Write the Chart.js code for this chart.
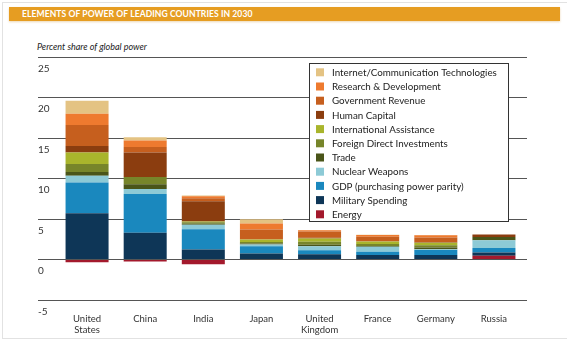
<!DOCTYPE html>
<html>
<head>
<meta charset="utf-8">
<script src="https://cdn.jsdelivr.net/npm/chart.js@4"></script>
<style>
  html, body { margin: 0; padding: 0; background: #fff; }
  #wrap { position: relative; width: 567px; height: 342px; overflow: hidden; }
  #frame { position: absolute; left: 2px; top: 2px; width: 570px; height: 337px; border: 1px solid #e2e2e2; box-sizing: border-box; }
  #titlebar { position: absolute; left: 9px; top: 7px; width: 551px; height: 14px; background: #E69D22;
    box-shadow: 0 1px 2px rgba(200,140,40,0.35); color: #fff; font: bold 8.6px Lato, "Open Sans", sans-serif;
    line-height: 14px; padding-left: 13px; box-sizing: border-box; letter-spacing: 0.05px; }
  #subtitle { position: absolute; left: 37px; top: 41px; font: italic 9px Lato, "Open Sans", sans-serif; color: #222; }
  canvas { position: absolute; left: 0; top: 0; }
</style>
</head>
<body>
<div id="wrap">
  <div id="frame"></div>
  <div id="titlebar">ELEMENTS OF POWER OF LEADING COUNTRIES IN 2030</div>
  <div id="subtitle">Percent share of global power</div>
  <canvas id="c" width="567" height="342"></canvas>
</div>
<script>
// ---- data ----
const categories = [['United','States'], 'China', 'India', 'Japan', ['United','Kingdom'], 'France', 'Germany', 'Russia'];
const seriesNames = ['Energy','Military Spending','GDP (purchasing power parity)','Nuclear Weapons','Trade',
  'Foreign Direct Investments','International Assistance','Human Capital','Government Revenue',
  'Research & Development','Internet/Communication Technologies'];
const energy     = [-0.35, -0.25, -0.6, 0, 0, 0, 0, 0.45];
const military   = [5.7, 3.3, 1.25, 0.75, 0.65, 0.55, 0.55, 0.42];
const gdp        = [3.8, 4.8, 2.5, 0.9, 0.5, 0.4, 0.62, 0.55];
const nuclear    = [0.85, 0.6, 0.55, 0.2, 0.5, 0.62, 0.1, 0.95];
const trade      = [0.45, 0.6, 0.1, 0.12, 0.18, 0.1, 0.2, 0.42];
const fdi        = [1.0, 0.9, 0.2, 0.2, 0.35, 0.25, 0.28, 0];
const intlAssist = [1.4, 0, 0.1, 0.3, 0.42, 0.29, 0.33, 0];
const humanCap   = [0.8, 3.0, 2.5, 0, 0.1, 0.05, 0.05, 0.3];
const govRevenue = [2.6, 0.7, 0.35, 1.23, 0.75, 0.55, 0.6, 0];
const research   = [1.4, 0.8, 0.25, 0.75, 0.15, 0.2, 0.25, 0];
const ict        = [1.6, 0.4, 0.1, 0.52, 0.05, 0.05, 0.05, 0];
const yTicks = [-5, 0, 5, 10, 15, 20, 25];

const seriesValues = [energy, military, gdp, nuclear, trade, fdi, intlAssist, humanCap, govRevenue, research, ict];
const seriesColors = ['#A3192C','#0E3657','#1A88BE','#8DCAD6','#4A5519','#77852A','#A9B52C','#8B3D0F','#C65F1E','#EE7A2F','#E4C383'];

const datasets = seriesNames.map((n, i) => ({
  label: n, data: seriesValues[i], backgroundColor: seriesColors[i], borderWidth: 0,
  barPercentage: 0.74, categoryPercentage: 1.0
}));

const FONT = 'Lato, "Open Sans", sans-serif';
const gridColor = '#555';

const legendPlugin = {
  id: 'boxLegend',
  afterDraw(chart) {
    const ctx = chart.ctx;
    const x0 = 309.5, y0 = 63.5, w = 199, h = 158;
    ctx.save();
    ctx.fillStyle = '#fff';
    ctx.fillRect(x0, y0, w, h);
    ctx.strokeStyle = '#333';
    ctx.lineWidth = 1;
    ctx.strokeRect(x0, y0, w, h);
    ctx.font = '9.8px ' + FONT;
    ctx.textBaseline = 'middle';
    ctx.textAlign = 'left';
    const ds = chart.data.datasets.slice().reverse();
    ds.forEach((d, i) => {
      const cy = 72.3 + i * 14.2;
      ctx.fillStyle = d.backgroundColor;
      ctx.fillRect(316, cy - 4, 8, 8);
      ctx.fillStyle = '#222';
      ctx.fillText(d.label, 332, cy + 0.5);
    });
    ctx.restore();
  }
};

new Chart(document.getElementById('c'), {
  type: 'bar',
  data: { labels: categories, datasets },
  options: {
    responsive: false,
    animation: false,
    devicePixelRatio: 1,
    layout: { padding: { top: 57, left: 38, right: 40, bottom: 2 } },
    plugins: { legend: { display: false }, tooltip: { enabled: false } },
    scales: {
      x: {
        stacked: true,
        grid: { display: false, drawTicks: false },
        border: { display: false },
        ticks: { color: '#333', font: { family: FONT, size: 9.5 }, padding: 13, maxRotation: 0, autoSkip: false },
        afterFit(s) { s.height = 40; }
      },
      y: {
        stacked: true,
        min: -5, max: 25,
        afterBuildTicks(s) { s.ticks = yTicks.map(v => ({ value: v })); },
        grid: { color: gridColor, lineWidth: 1, drawTicks: true, tickLength: 20 },
        border: { display: false },
        ticks: { crossAlign: 'far', labelOffset: 11.5, color: '#333', font: { family: FONT, size: 10 } },
        afterFit(s) { s.width = 20; }
      },
      y2: {
        position: 'right',
        min: -5, max: 25,
        afterBuildTicks(s) { s.ticks = yTicks.map(v => ({ value: v })); },
        grid: { color: gridColor, lineWidth: 1, drawOnChartArea: false, drawTicks: true, tickLength: 4 },
        border: { display: false },
        ticks: { display: false },
        afterFit(s) { s.width = 4; }
      }
    }
  },
  plugins: [legendPlugin]
});
</script>
</body>
</html>
